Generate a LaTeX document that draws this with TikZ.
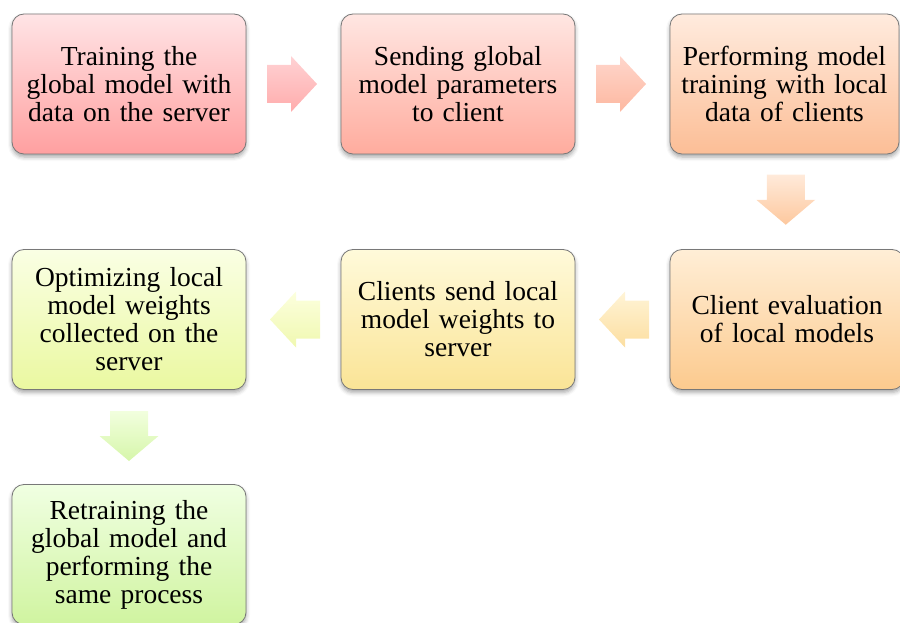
\documentclass[tikz,border=0pt]{standalone}
\usepackage{fontspec}
\setmainfont{Liberation Serif}
\usetikzlibrary{shadows.blur}

% box fills (top / bottom of each gradient)
\definecolor{edgegray}{RGB}{120,120,120}
\definecolor{redT}{RGB}{255,228,230}
\definecolor{redB}{RGB}{255,160,160}
\definecolor{salT}{RGB}{255,230,226}
\definecolor{salB}{RGB}{255,172,158}
\definecolor{peaT}{RGB}{255,235,222}
\definecolor{peaB}{RGB}{252,190,150}
\definecolor{oraT}{RGB}{255,238,214}
\definecolor{oraB}{RGB}{252,202,142}
\definecolor{yelT}{RGB}{255,250,218}
\definecolor{yelB}{RGB}{250,228,150}
\definecolor{limT}{RGB}{250,255,228}
\definecolor{limB}{RGB}{234,248,160}
\definecolor{grnT}{RGB}{240,255,226}
\definecolor{grnB}{RGB}{208,244,160}

\tikzset{
  stepbox/.style={rounded corners=12pt, draw=edgegray, line width=0.8pt,
    minimum width=234pt, minimum height=140pt, inner sep=0pt,
    align=center, text width=228pt,
    font=\fontsize{27.5}{28}\selectfont,
    blur shadow={shadow xshift=0pt, shadow yshift=-3pt,
      shadow blur radius=4pt, shadow opacity=35}},
  arrowshadow/.style={blur shadow={shadow xshift=0pt, shadow yshift=-2pt,
      shadow blur radius=3pt, shadow opacity=20}},
  pics/toright/.style={code={
    \path[pic actions] (-25,-19) -- (-1,-19) -- (-1,-28) -- (25,0)
      -- (-1,28) -- (-1,19) -- (-25,19) -- cycle;}},
  pics/toleft/.style={code={
    \path[pic actions] (25,-19) -- (1,-19) -- (1,-28) -- (-25,0)
      -- (1,28) -- (1,19) -- (25,19) -- cycle;}},
  pics/todown/.style={code={
    \path[pic actions] (-19,-25) -- (19,-25) -- (19,0) -- (29.5,0)
      -- (0,25) -- (-29.5,0) -- (-19,0) -- cycle;}},
}

\begin{document}
\begin{tikzpicture}[x=1pt,y=-1pt]
\useasboundingbox (0,0) rectangle (900,623);

% process steps
\node[stepbox, top color=redT, bottom color=redB] (train) at (129,84)
  {Training the\\global model with\\data on the server};
\node[stepbox, top color=salT, bottom color=salB] (send) at (458,84)
  {Sending global\\model parameters\\to client};
\node[stepbox, minimum width=229pt, top color=peaT, bottom color=peaB] (local) at (784.5,84)
  {Performing model\\training with local\\data of clients};
\node[stepbox, top color=oraT, bottom color=oraB] (eval) at (787,319.5)
  {Client evaluation\\of local models};
\node[stepbox, top color=yelT, bottom color=yelB] (upload) at (458,319.5)
  {Clients send local\\model weights to\\server};
\node[stepbox, top color=limT, bottom color=limB] (optim) at (129,319.5)
  {Optimizing local\\model weights\\collected on the\\server};
\node[stepbox, top color=grnT, bottom color=grnB] (retrain) at (129,554.5)
  {Retraining the\\global model and\\performing the\\same process};

% block arrows between consecutive steps
\path (train.east) -- (send.west) coordinate[pos=0.5] (a1);
\path (send.east) -- (local.west) coordinate[pos=0.5] (a2);
\path (local.south) -- (eval.north) coordinate[pos=0.5] (a3);
\path (eval.west) -- (upload.east) coordinate[pos=0.5] (a4);
\path (upload.west) -- (optim.east) coordinate[pos=0.5] (a5);
\path (optim.south) -- (retrain.north) coordinate[pos=0.5] (a6);

\pic[arrowshadow, top color={rgb,255:red,255;green,210;blue,212}, bottom color={rgb,255:red,255;green,172;blue,172}] at ([xshift=-1.5pt]a1) {toright};
\pic[arrowshadow, top color={rgb,255:red,255;green,214;blue,204}, bottom color={rgb,255:red,253;green,184;blue,160}] at ([xshift=-1.5pt]a2) {toright};
\pic[arrowshadow, top color={rgb,255:red,255;green,234;blue,218}, bottom color={rgb,255:red,253;green,200;blue,158}] at ([yshift=2pt]a3) {todown};
\pic[arrowshadow, top color={rgb,255:red,255;green,244;blue,214}, bottom color={rgb,255:red,252;green,222;blue,160}] at ([xshift=1.5pt]a4) {toleft};
\pic[arrowshadow, top color={rgb,255:red,252;green,255;blue,222}, bottom color={rgb,255:red,240;green,248;blue,176}] at ([xshift=1.5pt]a5) {toleft};
\pic[arrowshadow, top color={rgb,255:red,242;green,255;blue,222}, bottom color={rgb,255:red,214;green,246;blue,170}] at ([yshift=1pt]a6) {todown};
\end{tikzpicture}
\end{document}
